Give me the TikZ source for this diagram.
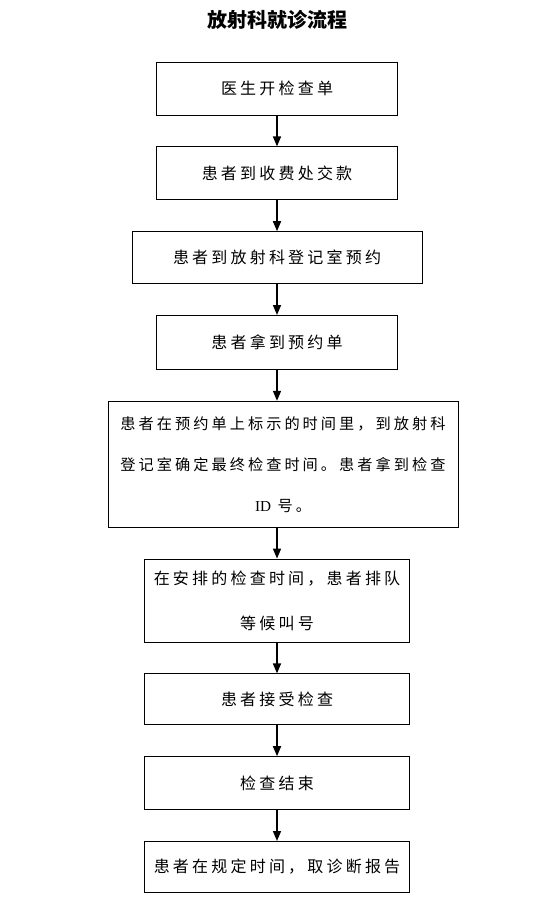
\documentclass[tikz,border=0pt]{standalone}
\usepackage{fontspec}
\setmainfont{Liberation Serif}
\newfontfamily\cjk[LetterSpace=20]{Noto Sans CJK SC}
\newfontfamily\cjktitle{Noto Sans CJK SC}
\usepackage{tikz}
\usetikzlibrary{arrows.meta, positioning}
\tikzstyle{stepbox} = [rectangle, draw=black, line width=0.8pt,
minimum width=241pt, minimum height=53pt,
align=center, font=\cjk\fontsize{16pt}{20pt}\selectfont]
\tikzstyle{arrow} = [-{Triangle[length=10pt, width=8pt]}, line width=1.6pt, draw=black]

\begin{document}
\begin{tikzpicture}[x=1pt, y=1pt, node distance=31pt]
    \useasboundingbox (0,0) rectangle (557,-900);
    \node (title) at (277,-20) [font=\cjktitle\bfseries\fontsize{20pt}{24pt}\selectfont] {放射科就诊流程};
    \node (doc) at (277,-88.5) [stepbox] {医生开检查单};
    \node (pay) [stepbox, below=of doc] {患者到收费处交款};
    \node (book) [stepbox, below=of pay, minimum width=290pt, minimum height=52pt]
    {患者到放射科登记室预约};
    \node (slip) [stepbox, below=of book, minimum height=54pt] {患者拿到预约单};
    \node (confirm) [stepbox, below=of slip, xshift=6pt, minimum width=350pt, minimum height=126pt,
    font=\cjk\fontsize{15.2pt}{41pt}\selectfont]
    {患者在预约单上标示的时间里，到放射科\\登记室确定最终检查时间。患者拿到检查\\{\rmfamily ID} 号。};
    \node (queue) [stepbox, below=of confirm, xshift=-6pt, minimum width=265pt, minimum height=83pt,
    font=\cjk\fontsize{16pt}{45pt}\selectfont]
    {在安排的检查时间，患者排队\\等候叫号};
    \node (exam) [stepbox, below=of queue, minimum width=265pt, minimum height=51pt] {患者接受检查};
    \node (done) [stepbox, below=of exam, minimum width=265pt] {检查结束};
    \node (report) [stepbox, below=of done, minimum width=265pt, minimum height=51pt]
    {患者在规定时间，取诊断报告};

    \draw[arrow] (doc) -- (pay);
    \draw[arrow] (pay) -- (book);
    \draw[arrow] (book) -- (slip);
    \draw[arrow] (slip.south) -- (slip.south |- confirm.north);
    \draw[arrow] (queue.north |- confirm.south) -- (queue.north);
    \draw[arrow] (queue) -- (exam);
    \draw[arrow] (exam) -- (done);
    \draw[arrow] (done) -- (report);
\end{tikzpicture}
\end{document}
